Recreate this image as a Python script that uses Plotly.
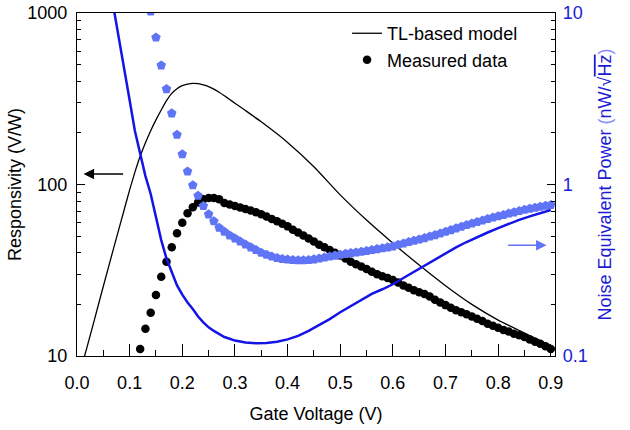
import numpy as np
import plotly.graph_objects as go

# TL-based model responsivity (V/W)
model_v = [0.01, 0.03, 0.05, 0.07, 0.09, 0.10, 0.11, 0.12, 0.13, 0.14, 0.15, 0.16, 0.17,
           0.18, 0.19, 0.20, 0.21, 0.22, 0.23, 0.24, 0.25, 0.26, 0.27, 0.28, 0.29, 0.30,
           0.32, 0.35, 0.40, 0.45, 0.50, 0.55, 0.60, 0.65, 0.70, 0.75, 0.80, 0.85, 0.90]
model_r = [8.9, 15, 25.5, 43, 72, 93, 118, 146, 175, 206, 238, 272, 308,
           340, 362, 377, 385, 389, 387, 381, 372, 360, 345, 329, 313, 298,
           270, 232, 176, 127, 87, 62, 45.5, 33.9, 25.7, 20, 16.2, 13.6, 11.5]

# measured responsivity (V/W)
meas_v = [0.12, 0.13, 0.14, 0.15, 0.16, 0.17, 0.18, 0.19, 0.20, 0.21, 0.22, 0.23, 0.24,
          0.25, 0.26, 0.27, 0.28, 0.29, 0.30, 0.31, 0.32, 0.33, 0.34, 0.35, 0.36, 0.37,
          0.38, 0.39, 0.40, 0.41, 0.42, 0.43, 0.44, 0.45, 0.46, 0.47, 0.48, 0.49, 0.50,
          0.51, 0.52, 0.53, 0.54, 0.55, 0.56, 0.57, 0.58, 0.59, 0.60, 0.61, 0.62, 0.63,
          0.64, 0.65, 0.66, 0.67, 0.68, 0.69, 0.70, 0.71, 0.72, 0.73, 0.74, 0.75, 0.76,
          0.77, 0.78, 0.79, 0.80, 0.81, 0.82, 0.83, 0.84, 0.85, 0.86, 0.87, 0.88, 0.89, 0.90]
meas_r = [11.0, 14.4, 17.9, 22.7, 29.0, 35.5, 43.0, 51.9, 59.8, 67.9, 73.6, 78.5, 82,
          83.4, 83.5, 82, 78, 76.5, 75, 73.5, 72, 70.5, 69, 67, 65, 63,
          61, 59, 57, 54.5, 52.5, 50.5, 48.5, 46.5, 44.5, 43, 41.5, 40, 38.5,
          37, 35.5, 34.3, 33.3, 32.2, 31, 30, 29.2, 28.5, 27.7, 26.8, 25.8, 25,
          24.2, 23.5, 23, 22.2, 21.3, 20.5, 19.8, 19.1, 18.5, 18, 17.5, 17, 16.5,
          16, 15.4, 15, 14.6, 14.2, 13.9, 13.5, 13.2, 12.9, 12.5, 12.1, 11.8, 11.4, 11.0]

# measured NEP (nW/sqrt(Hz))
nep_v = [0.14, 0.15, 0.16, 0.17, 0.18, 0.19, 0.20, 0.21, 0.22, 0.23, 0.24, 0.25, 0.26,
         0.27, 0.28, 0.29, 0.30, 0.31, 0.32, 0.33, 0.34, 0.35, 0.36, 0.37, 0.38, 0.39,
         0.40, 0.41, 0.42, 0.43, 0.44, 0.45, 0.46, 0.47, 0.48, 0.49, 0.50, 0.51, 0.52,
         0.53, 0.54, 0.55, 0.56, 0.57, 0.58, 0.59, 0.60, 0.61, 0.62, 0.63, 0.64, 0.65,
         0.66, 0.67, 0.68, 0.69, 0.70, 0.71, 0.72, 0.73, 0.74, 0.75, 0.76, 0.77, 0.78,
         0.79, 0.80, 0.81, 0.82, 0.83, 0.84, 0.85, 0.86, 0.87, 0.88, 0.89, 0.90]
nep_meas = [10.2, 7.2, 4.95, 3.6, 2.6, 1.95, 1.5, 1.19, 0.99, 0.86, 0.75, 0.67, 0.61,
            0.56, 0.53, 0.505, 0.485, 0.465, 0.447, 0.43, 0.415, 0.40, 0.39, 0.38, 0.373, 0.368,
            0.365, 0.363, 0.362, 0.362, 0.363, 0.366, 0.37, 0.375, 0.38, 0.385, 0.39, 0.394, 0.398,
            0.402, 0.406, 0.41, 0.415, 0.42, 0.425, 0.43, 0.436, 0.445, 0.453, 0.462, 0.47, 0.478,
            0.487, 0.497, 0.507, 0.518, 0.53, 0.542, 0.555, 0.567, 0.58, 0.592, 0.604, 0.617, 0.63,
            0.642, 0.654, 0.665, 0.677, 0.688, 0.70, 0.712, 0.723, 0.733, 0.743, 0.752, 0.76]

# modelled NEP (nW/sqrt(Hz))
nepm_v = [0.07, 0.08, 0.09, 0.10, 0.11, 0.12, 0.13, 0.14, 0.15, 0.16, 0.17, 0.18, 0.19,
          0.20, 0.21, 0.22, 0.23, 0.24, 0.25, 0.26, 0.27, 0.28, 0.29, 0.30, 0.32, 0.34,
          0.36, 0.38, 0.40, 0.42, 0.44, 0.46, 0.48, 0.50, 0.52, 0.54, 0.56, 0.58, 0.60,
          0.62, 0.64, 0.66, 0.68, 0.70, 0.72, 0.74, 0.76, 0.78, 0.80, 0.82, 0.84, 0.86, 0.88, 0.90]
nep_model = [10.5, 7.1, 4.7, 3.1, 2.05, 1.5, 1.12, 0.88, 0.65, 0.474, 0.37, 0.31, 0.258,
             0.228, 0.205, 0.188, 0.17, 0.157, 0.147, 0.14, 0.134, 0.129, 0.126, 0.123, 0.12, 0.1186,
             0.119, 0.121, 0.125, 0.131, 0.14, 0.151, 0.164, 0.18, 0.196, 0.213, 0.23, 0.245, 0.262,
             0.285, 0.31, 0.336, 0.366, 0.396, 0.43, 0.462, 0.494, 0.525, 0.557, 0.59, 0.622, 0.652, 0.68, 0.71]

x_ticks = [0.0, 0.1, 0.2, 0.3, 0.4, 0.5, 0.6, 0.7, 0.8, 0.9]
x_labels = ["0.0", "0.1", "0.2", "0.3", "0.4", "0.5", "0.6", "0.7", "0.8", "0.9"]
r_ticks = [10, 100, 1000]
r_labels = ["10", "100", "1000"]
n_ticks = [0.1, 1, 10]
n_labels = ["0.1", "1", "10"]

FONT = "Arial, Liberation Sans, sans-serif"
BLUE = "#1414e6"
LIGHT = "#6074f6"
TXT_BLUE = "#1c1cd4"

fig = go.Figure()
fig.add_trace(go.Scatter(x=model_v, y=model_r, mode="lines", name="TL-based model",
                         line=dict(color="black", width=1.3, shape="spline", smoothing=0.6)))
fig.add_trace(go.Scatter(x=nep_v, y=nep_meas, mode="markers", yaxis="y2", showlegend=False,
                         marker=dict(symbol="pentagon", size=10, color=LIGHT)))
fig.add_trace(go.Scatter(x=meas_v, y=meas_r, mode="markers", name="Measured data",
                         marker=dict(symbol="circle", size=8.5, color="black")))
fig.add_trace(go.Scatter(x=nepm_v, y=nep_model, mode="lines", yaxis="y2", showlegend=False,
                         line=dict(color=BLUE, width=2.5)))

axis_common = dict(showline=True, linecolor="black", linewidth=1.3, showgrid=False,
                   zeroline=False, ticks="inside", tickcolor="black", tickwidth=1.2,
                   automargin=False, ticklabeloverflow="allow",
                   tickfont=dict(size=18, family=FONT, color="black"))

fig.update_layout(
    width=630, height=430,
    margin=dict(l=77, r=75, t=13, b=74),
    paper_bgcolor="white", plot_bgcolor="white",
    font=dict(family=FONT, size=18, color="black"),
    xaxis=dict(axis_common, range=[0, 0.908], tickvals=x_ticks, ticktext=x_labels,
               ticklen=12, mirror=True, ticklabelstandoff=10,
               minor=dict(ticks="inside", ticklen=6, dtick=0.05, tickcolor="black"),
               title=dict(text="Gate Voltage (V)", font=dict(size=18), standoff=15)),
    yaxis=dict(axis_common, type="log", range=[1, 3], tickvals=r_ticks, ticktext=r_labels,
               ticklen=8, ticklabelstandoff=5,
               minor=dict(ticks="inside", ticklen=4, dtick="D1", tickcolor="black"),
               title=dict(text="Responsivity (V/W)", font=dict(size=18), standoff=0)),
    yaxis2=dict(axis_common, type="log", range=[-1, 1], overlaying="y", side="right",
                tickvals=n_ticks, ticktext=n_labels, ticklen=8, ticklabelstandoff=3,
                tickfont=dict(size=18, family=FONT, color=TXT_BLUE),
                minor=dict(ticks="inside", ticklen=4, dtick="D1", tickcolor="black"),
                title=dict(text="Noise Equivalent Power <span style='color:#8a8aff'>(</span>nW/√"
                                "<span style='text-decoration:overline'>Hz</span>"
                                "<span style='color:#8a8aff'>)</span>",
                           font=dict(size=18, color=TXT_BLUE), standoff=11)),
    legend=dict(x=0.565, y=0.994, xanchor="left", yanchor="top", bgcolor="rgba(0,0,0,0)",
                font=dict(size=18, family=FONT)),
    annotations=[
        dict(x=0.0125, y=np.log10(115), xref="x", yref="y", ax=41, ay=0, text="",
             showarrow=True, arrowhead=2, arrowsize=1.4, arrowwidth=1.5, arrowcolor="black"),
        dict(x=0.892, y=np.log10(0.443), xref="x", yref="y2", ax=-40, ay=0, text="",
             showarrow=True, arrowhead=2, arrowsize=1.4, arrowwidth=1.5, arrowcolor=LIGHT),
    ],
)

# drop the browser's default 8px body margin so the figure sits at the page corner
fig.write_html("out.html", config={"displayModeBar": False},
               post_script="document.body.style.margin='0';")
